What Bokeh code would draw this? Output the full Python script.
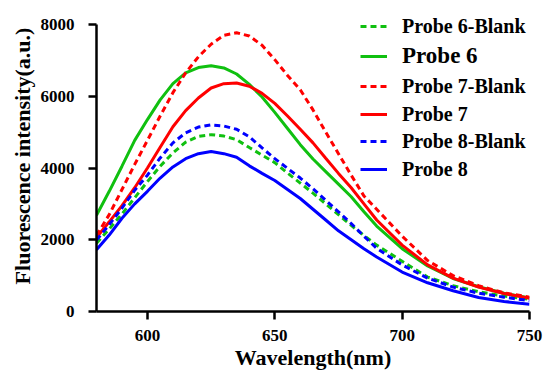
from bokeh.plotting import figure
from bokeh.models import Range1d, FixedTicker, Legend, LegendItem
from bokeh.embed import file_html
from bokeh.resources import INLINE

wavelength = [580, 585, 590, 595, 600, 605, 610, 615, 620, 625, 630, 635, 640, 645,
              650, 655, 660, 665, 670, 675, 680, 685, 690, 700, 710, 720, 730, 740, 750]

probe6_blank = [1900, 2300, 2720, 3170, 3620, 4050, 4420, 4720, 4880, 4930, 4890, 4790, 4570, 4360,
                4150, 3860, 3580, 3300, 3000, 2700, 2400, 2120, 1850, 1400, 960, 720, 550, 430, 340]
probe6 = [2680, 3350, 4050, 4770, 5350, 5900, 6350, 6650, 6800, 6850, 6790, 6620, 6330, 5980,
          5550, 5100, 4650, 4250, 3900, 3550, 3200, 2780, 2380, 1750, 1270, 920, 690, 510, 380]
probe7_blank = [2120, 2700, 3400, 4100, 4770, 5450, 6100, 6650, 7100, 7450, 7700, 7770, 7680, 7420,
                7020, 6580, 6180, 5620, 5000, 4400, 3800, 3220, 2850, 2100, 1420, 1000, 720, 520, 400]
probe7 = [2060, 2500, 2950, 3450, 4000, 4580, 5150, 5600, 5950, 6230, 6350, 6370, 6280, 6080,
          5800, 5450, 5080, 4700, 4270, 3850, 3450, 3000, 2550, 1850, 1300, 930, 680, 500, 370]
probe8_blank = [1990, 2420, 2880, 3380, 3800, 4280, 4700, 4980, 5140, 5200, 5170, 5080, 4870, 4560,
                4260, 3990, 3720, 3420, 3100, 2780, 2450, 2100, 1760, 1300, 930, 680, 510, 400, 300]
probe8 = [1720, 2130, 2600, 3000, 3350, 3720, 4030, 4260, 4400, 4460, 4400, 4300, 4060, 3850,
          3650, 3400, 3150, 2850, 2550, 2250, 2000, 1750, 1520, 1100, 800, 580, 390, 280, 200]

series_names = ["Probe 6-Blank", "Probe 6", "Probe 7-Blank", "Probe 7", "Probe 8-Blank", "Probe 8"]
series_values = [probe6_blank, probe6, probe7_blank, probe7, probe8_blank, probe8]
series_colors = ["#10C010", "#10C010", "#FF0000", "#FF0000", "#0000FF", "#0000FF"]
series_dashed = [True, False, True, False, True, False]
legend_font_sizes = ["20px", "23px", "20px", "20px", "20px", "20px"]

x_ticks = [600, 650, 700, 750]
y_ticks = [0, 2000, 4000, 6000, 8000]
y_max = 8000

FONT = "Liberation Serif"

AXIS_TOP = 24       # pixel row of the 8000 tick
FRAME_BOTTOM = 311  # pixel row of the x axis
H = 372
y_end = y_max * FRAME_BOTTOM / (FRAME_BOTTOM - AXIS_TOP)

p = figure(width=544, height=H, output_backend="svg", toolbar_location=None,
           x_range=Range1d(580, 750), y_range=Range1d(0, y_end),
           min_border_left=96, min_border_right=15, min_border_top=0,
           min_border_bottom=H - FRAME_BOTTOM)
p.outline_line_color = None
p.xgrid.visible = False
p.ygrid.visible = False
p.background_fill_color = "white"

for ax in (p.xaxis[0], p.yaxis[0]):
    ax.axis_line_width = 2.5
    ax.axis_line_color = "black"
    ax.major_tick_line_width = 2.5
    ax.major_tick_line_color = "black"
    ax.major_tick_out = 8
    ax.major_tick_in = 0
    ax.minor_tick_line_color = None
    ax.major_label_text_font = FONT
    ax.major_label_text_font_style = "bold"
    ax.major_label_text_font_size = "17px"
    ax.major_label_text_color = "black"
    ax.major_label_text_line_height = 1.0
    ax.axis_label_text_font = FONT
    ax.axis_label_text_font_style = "bold"
    ax.axis_label_text_font_size = "22px"
    ax.axis_label_text_color = "black"
    ax.axis_label_text_line_height = 1.0

p.yaxis.bounds = (0, y_max)
p.xaxis.ticker = FixedTicker(ticks=x_ticks)
p.yaxis.ticker = FixedTicker(ticks=y_ticks)
p.xaxis.major_label_standoff = 10
p.yaxis.major_label_standoff = 14
p.xaxis.axis_label = "Wavelength(nm)"
p.yaxis.axis_label = "Fluorescence intensity(a.u.)"
p.xaxis.axis_label_standoff = 1
p.yaxis.axis_label_standoff = 3

renderers = []
for name, vals, col, dashed in zip(series_names, series_values, series_colors, series_dashed):
    r = p.line(wavelength, vals, line_color=col, line_width=3,
               line_dash="6 4" if dashed else "solid")
    renderers.append(r)

# one legend per entry so that each label can have its own size
item_centers = [21, 51, 81, 109, 136, 164]  # px below top of figure
for name, r, fs, cy in zip(series_names, renderers, legend_font_sizes, item_centers):
    lg = Legend(items=[LegendItem(label=name, renderers=[r])],
                location=(264, FRAME_BOTTOM - cy - 20),
                padding=0, margin=0, spacing=0,
                border_line_color=None, background_fill_alpha=0,
                glyph_width=27, glyph_height=30, label_height=30,
                label_standoff=15,
                label_text_font=FONT, label_text_font_style="bold",
                label_text_font_size=fs, label_text_color="black")
    p.add_layout(lg, "center")

open("out.html", "w").write(file_html(p, INLINE))
